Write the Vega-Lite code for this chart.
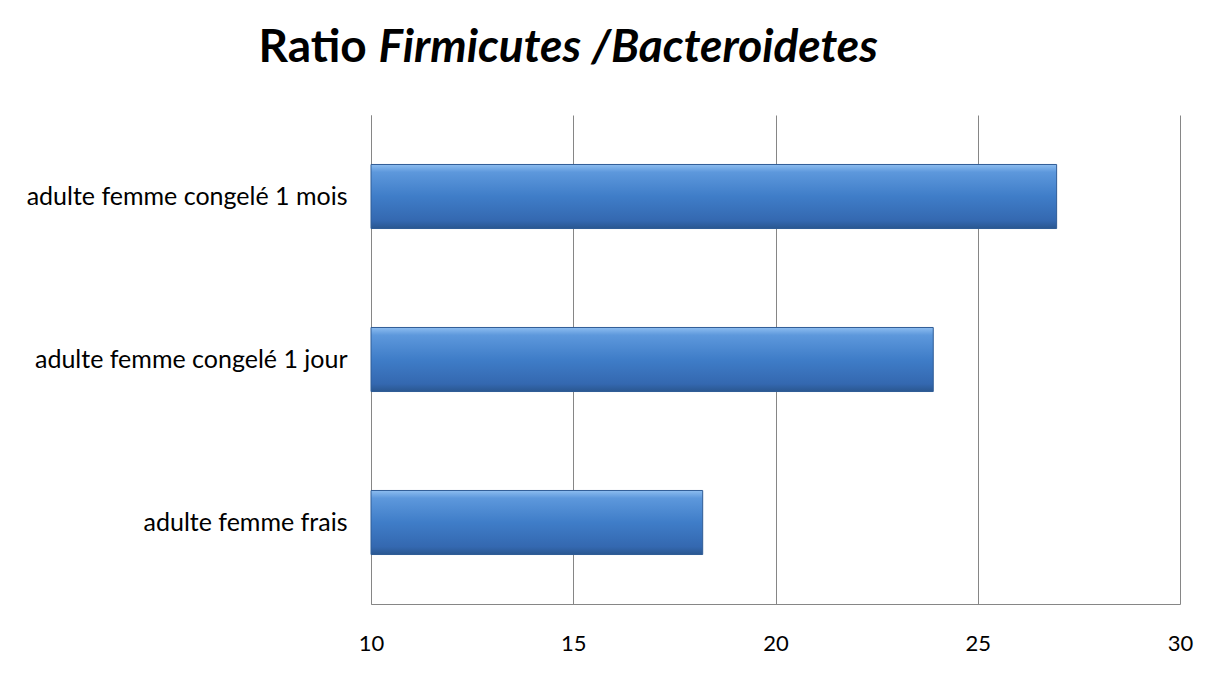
{
  "$schema": "https://vega.github.io/schema/vega-lite/v6.json",
  "autosize": {"type": "none"},
  "width": 809,
  "height": 489,
  "padding": {"left": 371, "top": 115, "right": 42, "bottom": 71},
  "background": "white",
  "data": {
    "values": [
      {"cat": "adulte femme congelé 1 mois", "ratio": 26.95},
      {"cat": "adulte femme congelé 1 jour", "ratio": 23.9},
      {"cat": "adulte femme frais", "ratio": 18.2}
    ]
  },
  "mark": {
    "type": "bar",
    "color": {
      "gradient": "linear",
      "x1": 0, "y1": 0, "x2": 0, "y2": 1,
      "stops": [
        {"offset": 0, "color": "#8dbdf0"},
        {"offset": 0.12, "color": "#5d98dc"},
        {"offset": 0.5, "color": "#3f7dc8"},
        {"offset": 0.88, "color": "#3468b0"},
        {"offset": 1, "color": "#2a5790"}
      ]
    },
    "stroke": "#2f5c96",
    "strokeWidth": 1
  },
  "encoding": {
    "y": {
      "field": "cat",
      "type": "nominal",
      "sort": null,
      "scale": {"paddingInner": 0.607, "paddingOuter": 0.3035},
      "axis": {
        "title": "Firmicutes /Bacteroidetes",
        "titleAngle": 0,
        "titleX": 7,
        "titleY": -54,
        "titleAlign": "left",
        "titleBaseline": "alphabetic",
        "titleFont": "Lato",
        "titleFontSize": 46,
        "titleFontWeight": "bold",
        "titleFontStyle": "italic",
        "titleColor": "black",
        "ticks": false,
        "labelPadding": 24,
        "labelFont": "Lato",
        "labelFontSize": 25,
        "labelColor": "black",
        "labelLimit": 400,
        "domainColor": "#868686",
        "domainWidth": 1
      }
    },
    "x": {
      "field": "ratio",
      "type": "quantitative",
      "scale": {"domain": [10, 30], "zero": false, "nice": false},
      "axis": {
        "title": "Ratio",
        "titleX": -113,
        "titleY": -543,
        "titleAlign": "left",
        "titleBaseline": "alphabetic",
        "titleFont": "Lato",
        "titleFontSize": 46,
        "titleFontWeight": "bold",
        "titleColor": "black",
        "values": [10, 15, 20, 25, 30],
        "ticks": false,
        "labelFlush": false,
        "labelPadding": 29,
        "labelFont": "Lato",
        "labelFontSize": 22,
        "labelColor": "black",
        "grid": true,
        "gridColor": "#868686",
        "gridWidth": 1,
        "domainColor": "#868686",
        "domainWidth": 1
      }
    },
    "x2": {"datum": 10}
  },
  "config": {"view": {"stroke": null}}
}
